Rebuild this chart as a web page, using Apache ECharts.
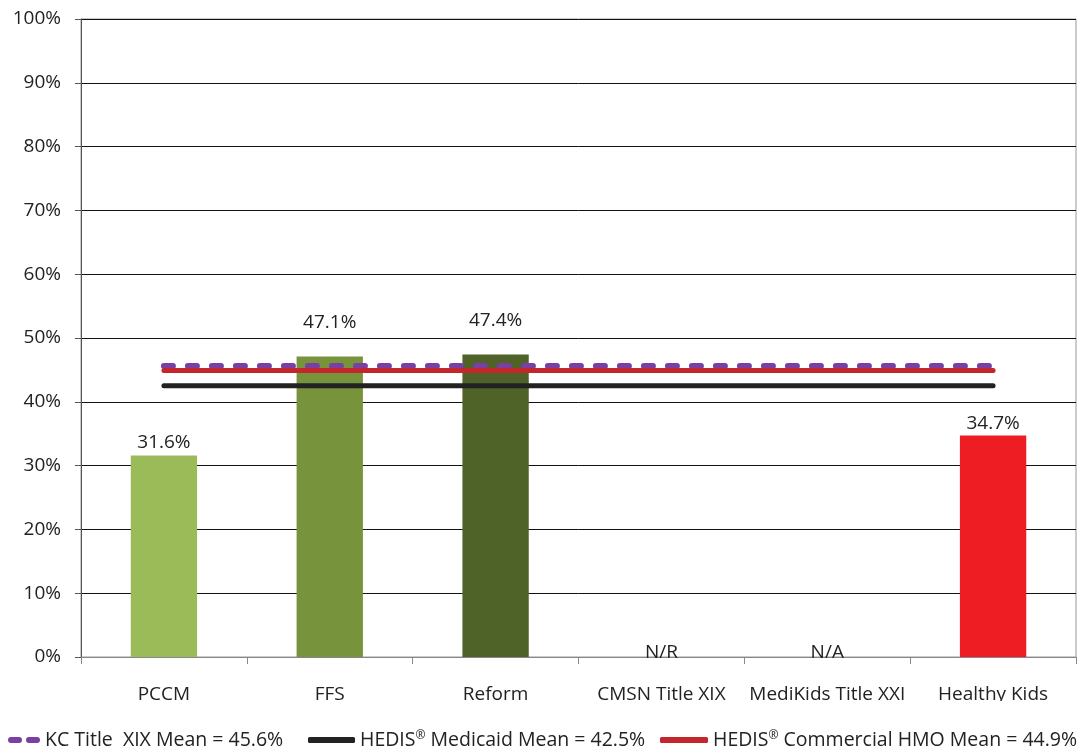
<!DOCTYPE html>
<html>
<head>
<meta charset="utf-8">
<title>Mean chart</title>
<script src="https://cdn.jsdelivr.net/npm/echarts@6/dist/echarts.min.js"></script>
<style>
    html, body { margin: 0; padding: 0; background: #fff; }
    #main { width: 1084px; height: 754px; }
</style>
</head>
<body>
<div id="main"></div>
<script>
"use strict";

// 类目
let categories = ["PCCM", "FFS", "Reform", "CMSN Title XIX", "MediKids Title XXI", "Healthy Kids"];
// 柱子数值 (N/R、N/A 记为 0)
let rates = [31.6, 47.1, 47.4, 0, 0, 34.7];
let rateLabels = ["31.6%", "47.1%", "47.4%", "N/R", "N/A", "34.7%"];
let barColors = ['#9BBB59', '#77933C', '#4F6228', '#9BBB59', '#9BBB59', '#EE1D23'];
// 均值线
let kcMean = 45.6;
let medicaidMean = 42.5;
let commercialMean = 44.9;
// 纵轴刻度
let yMin = 0, yMax = 100, yStep = 10;

let font = "'Open Sans', 'DejaVu Sans', sans-serif";
let narrow = "'Liberation Sans Narrow', 'Open Sans', sans-serif";

let legendText = {
    fontFamily: narrow,
    fontSize: 19.5,
    color: '#222',
    rich: {
        sup: { fontFamily: narrow, fontSize: 12, color: '#222', verticalAlign: 'top', padding: [0, 0, 8, 0] },
    },
};

function legendName(name) {
    if (name === 'kc') return 'KC Title  XIX Mean = ' + kcMean.toFixed(1) + '%';
    if (name === 'medicaid') return 'HEDIS{sup|®} Medicaid Mean = ' + medicaidMean.toFixed(1) + '%';
    return 'HEDIS{sup|®} Commercial HMO Mean = ' + commercialMean.toFixed(1) + '%';
}

let myChart = echarts.init(document.getElementById('main'));

let option = {
    animation: false,
    backgroundColor: '#fff',
    grid: { left: 81, right: 8, top: 19, bottom: 97, show: true, borderColor: '#999', borderWidth: 1 },
    legend: [ // 图例，三项各自定位
        {
            left: 8, top: 730, padding: 0, itemWidth: 32, itemHeight: 6,
            data: [{ name: 'kc', icon: 'path://M3,0h8a3,3 0 0 1 0,6h-8a3,3 0 0 1 0,-6zM21,0h8a3,3 0 0 1 0,6h-8a3,3 0 0 1 0,-6z' }],
            textStyle: legendText, formatter: legendName,
        },
        {
            left: 308, top: 730, padding: 0, itemWidth: 47, itemHeight: 6,
            data: [{ name: 'medicaid', icon: 'roundRect' }],
            textStyle: legendText, formatter: legendName,
        },
        {
            left: 660, top: 730, padding: 0, itemWidth: 48, itemHeight: 6,
            data: [{ name: 'commercial', icon: 'roundRect' }],
            textStyle: legendText, formatter: legendName,
        },
    ],
    xAxis: {
        type: 'category',
        data: categories,
        axisLine: { lineStyle: { color: '#888', width: 1 } },
        axisTick: { show: true, length: 7, lineStyle: { color: '#888' } },
        axisLabel: { margin: 28, fontFamily: font, fontSize: 19, color: '#222', interval: 0 },
    },
    yAxis: {
        type: 'value',
        min: yMin,
        max: yMax,
        interval: yStep,
        axisLine: { show: true, lineStyle: { color: '#555', width: 1 } },
        axisTick: { show: true, length: 6, lineStyle: { color: '#555' } },
        axisLabel: { formatter: '{value}%', fontFamily: font, fontSize: 19, color: '#222', margin: 20 },
        splitLine: { lineStyle: { color: '#111', width: 1 } },
    },
    series: [
        {
            name: 'rate',
            type: 'bar',
            barWidth: '40%',
            z: 1,
            data: rates.map(function (v, i) {
                let item = { value: v, itemStyle: { color: barColors[i] } };
                // 47.1%、47.4% 的标签被抬高
                if (i === 1 || i === 2) item.label = { offset: [0, -21] };
                // N/R、N/A 压在横轴上
                if (v === 0) item.label = { offset: [0, 8] };
                return item;
            }),
            label: {
                show: true,
                position: 'top',
                distance: 3,
                fontFamily: font,
                fontSize: 19,
                color: '#222',
                formatter: function (p) { return rateLabels[p.dataIndex]; },
            },
        },
        {
            name: 'medicaid',
            type: 'line',
            symbol: 'none',
            z: 3,
            data: categories.map(function () { return medicaidMean; }),
            lineStyle: { color: '#222', width: 5, cap: 'round' },
            itemStyle: { color: '#222' },
        },
        {
            name: 'kc',
            type: 'line',
            symbol: 'none',
            z: 4,
            data: categories.map(function () { return kcMean; }),
            lineStyle: { color: '#7A3FA2', width: 6, type: [9, 15], cap: 'round' },
            itemStyle: { color: '#7A3FA2' },
        },
        {
            name: 'commercial',
            type: 'line',
            symbol: 'none',
            z: 5,
            data: categories.map(function () { return commercialMean; }),
            lineStyle: { color: '#C4262E', width: 5, cap: 'round' },
            itemStyle: { color: '#C4262E' },
        },
    ],
    graphic: [
        { // 原图底部类目文字被截断
            type: 'rect',
            left: 0,
            top: 701,
            z: 100,
            shape: { width: 1084, height: 24 },
            style: { fill: '#fff' },
        },
    ],
};

myChart.setOption(option);
</script>
</body>
</html>
